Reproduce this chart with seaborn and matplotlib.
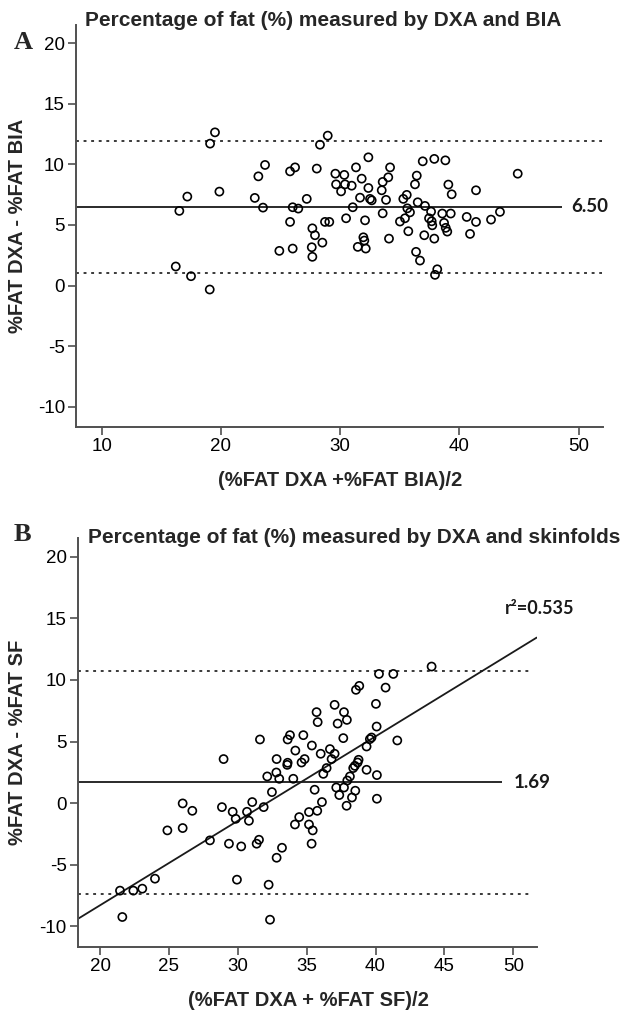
#Bland-Altman plots: DXA vs BIA and DXA vs skinfolds

import numpy as np
import pandas as pd
import matplotlib
matplotlib.use('Agg')
import matplotlib.pyplot as plt
import seaborn as sns

# Panel A data: mean of the two methods vs difference (DXA - BIA)
a_mean = [19.50, 19.09, 19.87, 17.18, 16.51, 16.21, 17.49, 19.06, 22.84, 23.14,
          23.70, 23.53, 24.90, 25.80, 26.22, 25.80, 26.02, 26.49, 26.02, 27.20,
          27.67, 27.89, 27.62, 27.67, 28.51, 28.04, 28.31, 28.96, 28.73, 29.09,
          29.60, 29.66, 30.08, 30.35, 30.41, 30.50, 30.97, 31.06, 31.33, 31.48,
          31.81, 32.37, 32.37, 31.67, 32.51, 32.65, 32.09, 31.95, 32.03, 32.15,
          34.19, 34.04, 33.57, 33.49, 33.85, 33.57, 34.10, 35.02, 35.44, 35.30,
          35.59, 35.64, 35.86, 35.72, 36.28, 36.43, 36.51, 36.93, 37.12, 37.06,
          36.37, 36.70, 37.63, 37.46, 37.68, 37.73, 37.90, 37.90, 38.15, 37.96,
          38.83, 39.08, 39.36, 38.57, 39.28, 38.72, 38.86, 38.99, 40.62, 41.40,
          41.40, 40.90, 42.66, 43.41, 44.90]
a_diff = [12.64, 11.71, 7.75, 7.34, 6.16, 1.57, 0.77, -0.33, 7.23, 9.01,
          9.95, 6.43, 2.86, 9.42, 9.75, 5.25, 6.46, 6.35, 3.05, 7.15,
          4.72, 4.15, 3.16, 2.37, 3.54, 9.65, 11.62, 12.37, 5.25, 5.25,
          9.23, 8.35, 7.77, 9.13, 8.35, 5.55, 8.24, 6.46, 9.75, 3.19,
          8.82, 10.58, 8.05, 7.25, 7.15, 7.03, 5.38, 3.98, 3.71, 3.05,
          9.75, 8.93, 8.55, 7.86, 7.07, 5.96, 3.87, 5.28, 5.55, 7.15,
          7.48, 6.37, 6.04, 4.48, 8.35, 9.07, 6.87, 10.25, 6.57, 4.15,
          2.78, 2.06, 6.10, 5.55, 5.30, 4.97, 10.45, 3.87, 1.34, 0.88,
          10.33, 8.33, 7.53, 5.94, 5.94, 5.17, 4.76, 4.45, 5.66, 7.86,
          5.25, 4.26, 5.44, 6.08, 9.23]
a_bias = 6.50
a_upper = 11.95
a_lower = 1.05

# Panel B data: mean of the two methods vs difference (DXA - SF)
b_mean = [21.45, 22.42, 23.07, 23.99, 24.89, 26.00, 26.00, 26.70, 27.98, 28.97,
          28.85, 29.63, 29.85, 29.36, 30.25, 29.94, 30.67, 30.81, 31.05, 31.88,
          31.37, 31.54, 31.61, 32.14, 32.48, 32.82, 32.80, 33.01, 32.24, 32.82,
          33.21, 33.59, 33.62, 33.62, 33.79, 34.03, 34.18, 34.15, 34.46, 34.63,
          34.85, 34.76, 35.17, 35.17, 35.44, 35.36, 35.38, 35.58, 35.72, 35.80,
          35.77, 36.02, 36.11, 36.21, 36.45, 36.69, 36.81, 37.03, 37.03, 37.25,
          37.15, 37.37, 37.71, 37.66, 37.71, 37.92, 37.90, 37.95, 38.14, 38.29,
          38.38, 38.53, 38.50, 38.70, 38.77, 39.35, 39.35, 39.59, 39.71, 40.03,
          40.08, 40.10, 40.10, 44.07, 40.25, 41.29, 38.58, 38.82, 40.73, 41.58,
          21.62, 32.34]
b_diff = [-7.10, -7.10, -6.94, -6.13, -2.21, -2.02, -0.02, -0.62, -3.02, 3.58,
          -0.32, -0.70, -1.27, -3.29, -3.51, -6.21, -0.70, -1.43, 0.09, -0.32,
          -3.29, -2.97, 5.17, 2.17, 0.90, 3.58, 2.49, 1.98, -6.62, -4.43,
          -3.62, 3.11, 3.28, 5.17, 5.52, 1.98, 4.27, -1.73, -1.13, 3.30,
          3.58, 5.52, -0.72, -1.73, -2.21, -3.29, 4.68, 1.09, 7.39, 6.58,
          -0.62, 4.01, 0.09, 2.38, 2.85, 4.39, 3.58, 4.01, 7.98, 6.46,
          1.27, 0.66, 1.27, 5.28, 7.39, 6.76, -0.21, 1.84, 2.17, 0.46,
          2.85, 1.01, 3.03, 3.30, 3.52, 4.60, 2.71, 5.20, 5.33, 8.06,
          6.22, 2.28, 0.36, 11.09, 10.49, 10.49, 9.20, 9.52, 9.38, 5.09,
          -9.24, -9.46]
b_bias = 1.69
b_upper = 10.70
b_lower = -7.35
b_slope = 0.6855
b_intercept = -22.0
b_r2 = 0.535

df_a = pd.DataFrame({'mean': a_mean, 'diff': a_diff})
df_b = pd.DataFrame({'mean': b_mean, 'diff': b_diff})

sns.set_style('ticks')
plt.rcParams['font.family'] = ['Liberation Sans', 'DejaVu Sans']
plt.rcParams['axes.unicode_minus'] = False

W, H = 632, 1011
fig = plt.figure(figsize=(W / 100, H / 100), dpi=100)

def px(x, y):
    # pixel position (from top-left) to figure fraction
    return x / W, 1 - y / H

ax_a = fig.add_axes([76 / W, 1 - 427.3 / H, 527.3 / W, 402.3 / H])
ax_b = fig.add_axes([77.7 / W, 1 - 947.3 / H, 459 / W, 409 / H])

line_col = '#2a2a2a'
spine_col = '#505050'
note_font = ['Lato', 'DejaVu Sans']

def style_axes(ax, xlim, xticks):
    ax.set_xlim(*xlim)
    ax.set_ylim(-11.7, 21.5)
    ax.set_xticks(xticks)
    ax.set_yticks([-10, -5, 0, 5, 10, 15, 20])
    ax.tick_params(direction='out', length=6, width=1.2, color=spine_col,
                   labelsize=13.5, pad=2, labelcolor='black')
    for s in ['left', 'bottom']:
        ax.spines[s].set_color(spine_col)
        ax.spines[s].set_linewidth(1.4)
    sns.despine(ax=ax)
    ax.set_xlabel('')
    ax.set_ylabel('')

# ---- Panel A
sns.scatterplot(data=df_a, x='mean', y='diff', ax=ax_a, marker='o', s=34,
                facecolor='none', edgecolor='black', linewidth=1.2, zorder=3)
ax_a.hlines(a_bias, 7.84, 48.6, color=line_col, lw=1.4)
ax_a.hlines([a_upper, a_lower], 7.84, 52.0, color=line_col, lw=1.3,
            linestyles=(0, (1.6, 2.6)))
ax_a.text(49.4, a_bias, f'{a_bias:.2f}', va='center', ha='left', fontsize=13.5,
          family=note_font, fontweight='bold', color='#1a1a1a', clip_on=False)
style_axes(ax_a, (7.84, 52.08), [10, 20, 30, 40, 50])

# ---- Panel B
sns.scatterplot(data=df_b, x='mean', y='diff', ax=ax_b, marker='o', s=34,
                facecolor='none', edgecolor='black', linewidth=1.2, zorder=3)
ax_b.hlines(b_bias, 18.38, 49.2, color=line_col, lw=1.4)
ax_b.hlines([b_upper, b_lower], 18.38, 51.3, color=line_col, lw=1.3,
            linestyles=(0, (1.6, 2.6)))
ax_b.axline((20, b_intercept + b_slope * 20), slope=b_slope, color='#1a1a1a', lw=1.3)
ax_b.text(50.0, b_bias, f'{b_bias:.2f}', va='center', ha='left', fontsize=13.5,
          family=note_font, fontweight='bold', color='#1a1a1a', clip_on=False)
ax_b.text(49.4, 15.8, f'r²={b_r2}', va='center', ha='left', fontsize=13,
          family=note_font, fontweight='bold', color='#1a1a1a', clip_on=False)
style_axes(ax_b, (18.38, 51.7), [20, 25, 30, 35, 40, 45, 50])

# ---- titles, panel letters and axis labels
fig.text(*px(85, 26), 'Percentage of fat (%) measured by DXA and BIA',
         fontsize=15, fontweight='bold', ha='left', va='baseline')
fig.text(*px(88, 542.7), 'Percentage of fat (%) measured by DXA and skinfolds',
         fontsize=15, fontweight='bold', ha='left', va='baseline')
fig.text(*px(14, 49), 'A', fontsize=19, fontweight='bold',
         family=['Liberation Serif', 'DejaVu Serif'], ha='left', va='baseline')
fig.text(*px(14, 541), 'B', fontsize=19, fontweight='bold',
         family=['Liberation Serif', 'DejaVu Serif'], ha='left', va='baseline')
fig.text(*px(18, 226), '%FAT DXA - %FAT BIA', fontsize=14.5, fontweight='bold',
         rotation=90, ha='center', va='center')
fig.text(*px(18, 742), '%FAT DXA - %FAT SF', fontsize=14.5, fontweight='bold',
         rotation=90, ha='center', va='center')
fig.text(*px(340, 481), '(%FAT DXA +%FAT BIA)/2', fontsize=14.5, fontweight='bold',
         ha='center', va='center')
fig.text(*px(308, 1000), '(%FAT DXA + %FAT SF)/2', fontsize=14.5, fontweight='bold',
         ha='center', va='center')

plt.savefig('out.png', dpi=100)
